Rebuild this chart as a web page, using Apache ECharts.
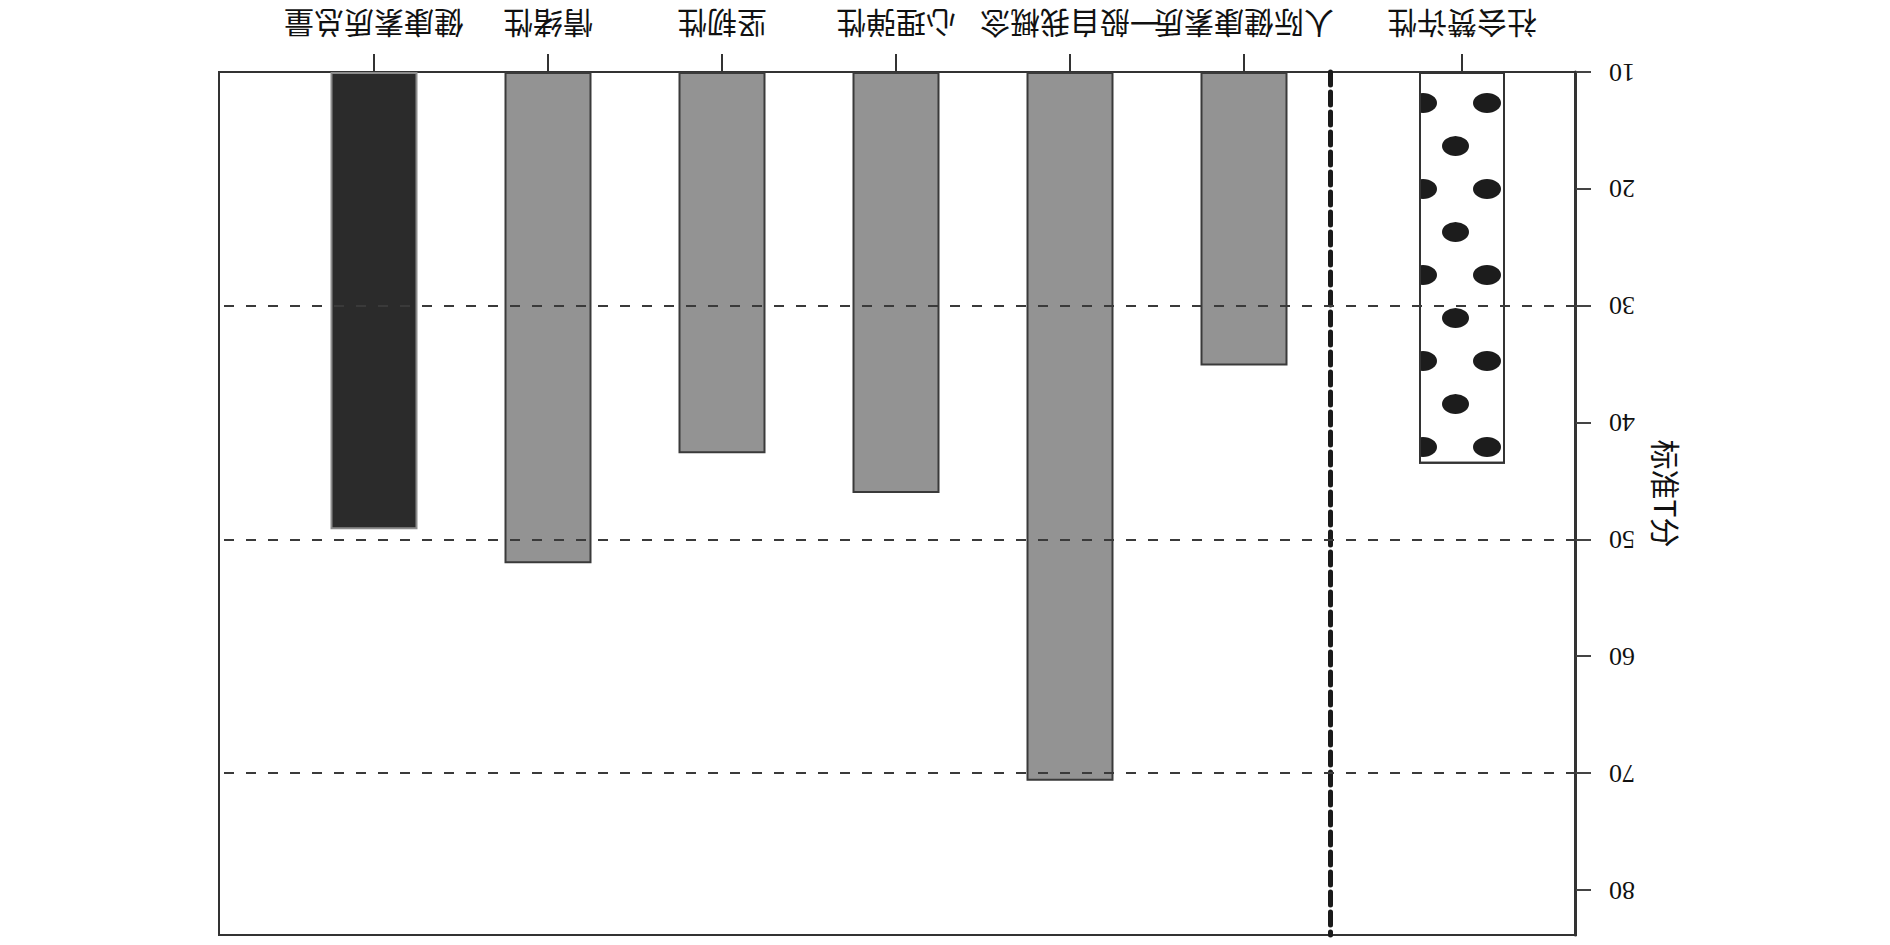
<!DOCTYPE html>
<html>
<head>
<meta charset="utf-8">
<script src="https://cdn.jsdelivr.net/npm/echarts@6/dist/echarts.min.js"></script>
<style>
  html, body { margin: 0; padding: 0; background: #fff; overflow: hidden; }
  #chart { width: 1890px; height: 945px; transform: rotate(180deg); transform-origin: 50% 50%; }
</style>
</head>
<body>
<div id="chart"></div>
<script>
// ---- data ----
const categories = ['人际健康素质', '一般自我概念', '心理弹性', '坚韧性', '情绪性', '健康素质总量'];
const scores = [35.1, 70.6, 46.0, 42.6, 52.0, 49.1];
const validityCategory = ['社会赞许性'];
const validityScores = [43.5];
const yTicks = [10, 20, 30, 40, 50, 60, 70, 80];
const refLines = [30, 50, 70];
const yName = '标准T分';
const Y_MIN = 10;
const Y_MAX = 83.8;

// ---- styles ----
const barFills = ['#939393', '#939393', '#939393', '#939393', '#939393', '#2b2b2b'];
const barBorders = ['#3a3a3a', '#3a3a3a', '#3a3a3a', '#3a3a3a', '#3a3a3a', '#8c8c8c'];
const cjkFont = "'Noto Sans CJK SC', 'Noto Sans', sans-serif";
const numFont = "'Liberation Serif', 'DejaVu Serif', serif";

const chart = echarts.init(document.getElementById('chart'), null, { renderer: 'svg' });

const yBase = { type: 'value', min: Y_MIN, max: Y_MAX, startValue: Y_MIN };
const catAxisCommon = {
  type: 'category',
  axisLine: { show: false },
  axisTick: { show: true, alignWithLabel: true, length: 18, lineStyle: { color: '#333', width: 2 } },
  axisLabel: { interval: 0, margin: 32, fontSize: 30, fontFamily: cjkFont, color: '#111' },
  splitLine: { show: false }
};

const option = {
  animation: false,
  backgroundColor: '#ffffff',
  grid: [
    { left: 314, right: 219, top: 10, bottom: 72, show: true, borderColor: '#333', borderWidth: 2, backgroundColor: 'transparent', outerBoundsMode: 'none', containLabel: false },
    { left: 314, width: 228, top: 10, bottom: 72, outerBoundsMode: 'none', containLabel: false },
    { left: 559, width: 1044, top: 10, bottom: 72, outerBoundsMode: 'none', containLabel: false }
  ],
  xAxis: [
    { gridIndex: 0, type: 'category', data: [''], show: false },
    Object.assign({ gridIndex: 1, data: validityCategory }, catAxisCommon),
    Object.assign({ gridIndex: 2, data: categories }, catAxisCommon)
  ],
  yAxis: [
    Object.assign({
      gridIndex: 0,
      axisLine: { show: true, lineStyle: { color: '#333', width: 3 } },
      axisTick: { show: true, inside: false, customValues: yTicks, length: 15, lineStyle: { color: '#444', width: 2 } },
      axisLabel: { customValues: yTicks, margin: 33, fontSize: 26, fontFamily: numFont, color: '#111' },
      splitLine: { show: false },
      name: yName,
      nameLocation: 'middle',
      nameGap: 76,
      nameRotate: 90,
      nameTextStyle: { fontSize: 30, fontFamily: cjkFont, color: '#111', padding: [0, 20, 0, 0] }
    }, yBase),
    Object.assign({ gridIndex: 1, show: false }, yBase),
    Object.assign({
      gridIndex: 2,
      axisLine: { show: true, lineStyle: { color: '#1a1a1a', width: 5, type: [13, 7] } },
      axisTick: { show: false },
      axisLabel: { show: false },
      splitLine: { show: false }
    }, yBase)
  ],
  series: [
    {
      type: 'bar',
      xAxisIndex: 1,
      yAxisIndex: 1,
      barWidth: 86,
      clip: true,
      silent: true,
      data: validityScores,
      itemStyle: {
        color: '#ffffff',
        borderColor: '#333',
        borderWidth: 2,
        decal: {
          symbol: 'path://M0,10A14,10 0 1,1 28,10A14,10 0 1,1 0,10Z',
          symbolSize: 1,
          symbolKeepAspect: false,
          color: '#1c1c1c',
          dashArrayX: [[0, 64], [0, 37, 27, 0], [0, 5, 28, 31]],
          dashArrayY: [0, 15, 20, 23, 20, 8]
        }
      }
    },
    {
      type: 'bar',
      xAxisIndex: 2,
      yAxisIndex: 2,
      barWidth: 87,
      clip: true,
      silent: true,
      data: scores.map((v, i) => ({
        value: v,
        itemStyle: { color: barFills[i], borderColor: barBorders[i], borderWidth: 2 }
      }))
    },
    {
      type: 'line',
      xAxisIndex: 0,
      yAxisIndex: 0,
      data: [],
      silent: true,
      markLine: {
        silent: true,
        symbol: ['none', 'none'],
        label: { show: false },
        lineStyle: { color: '#3a3a3a', width: 2, type: [10, 12] },
        emphasis: { disabled: true },
        data: refLines.map(v => ({ yAxis: v }))
      }
    }
  ]
};

chart.setOption(option);
</script>
</body>
</html>
